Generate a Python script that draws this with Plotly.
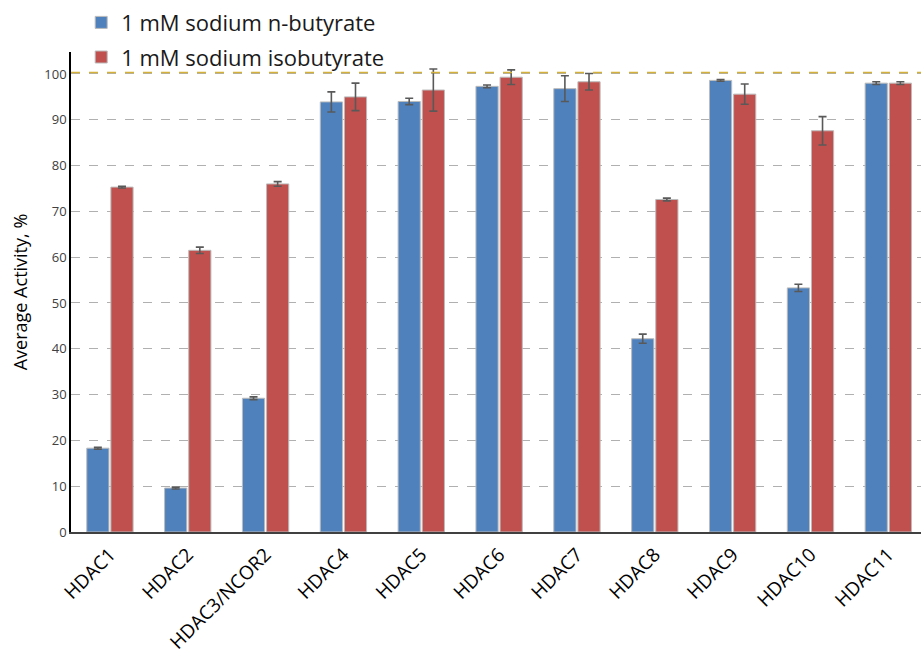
import plotly.graph_objects as go

categories = ["HDAC1", "HDAC2", "HDAC3/NCOR2", "HDAC4", "HDAC5", "HDAC6",
              "HDAC7", "HDAC8", "HDAC9", "HDAC10", "HDAC11"]
n_butyrate = [18.3, 9.6, 29.2, 93.9, 94.0, 97.3, 96.8, 42.2, 98.6, 53.3, 98.0]
n_butyrate_err = [0.2, 0.2, 0.3, 2.2, 0.7, 0.3, 2.8, 1.0, 0.2, 0.8, 0.3]
isobutyrate = [75.3, 61.5, 76.0, 95.0, 96.5, 99.3, 98.3, 72.6, 95.6, 87.6, 98.0]
isobutyrate_err = [0.2, 0.7, 0.5, 3.0, 4.6, 1.6, 1.8, 0.3, 2.2, 3.1, 0.3]
yticks = [0, 10, 20, 30, 40, 50, 60, 70, 80, 90, 100]
ref_level = 100.3

err_style = dict(type="data", color="#595959", thickness=1.6, width=4)

fig = go.Figure()
fig.add_trace(go.Bar(
    x=categories, y=n_butyrate, name="1 mM sodium n-butyrate", legendgroup="a",
    marker=dict(color="#4F81BD", line=dict(color="#BBBBBB", width=1)),
    error_y=dict(array=n_butyrate_err, **err_style)))
fig.add_trace(go.Bar(
    x=categories, y=isobutyrate, name="1 mM sodium isobutyrate", legendgroup="b",
    marker=dict(color="#C0504D", line=dict(color="#BBBBBB", width=1)),
    error_y=dict(array=isobutyrate_err, **err_style)))

fig.add_shape(type="line", xref="paper", x0=0, x1=1, yref="y", y0=ref_level, y1=ref_level,
              line=dict(color="#D4B13A", width=1.5, dash="dash"), layer="above")

fig.update_layout(
    width=921, height=654,
    margin=dict(l=71, r=0, t=52, b=122, autoexpand=False),
    paper_bgcolor="white", plot_bgcolor="white",
    barmode="group", bargap=0.38, bargroupgap=0.08,
    font=dict(family="Open Sans, DejaVu Sans, sans-serif", color="#000000"),
    showlegend=True,
    legend=dict(x=0.012, y=1.105, xanchor="left", yanchor="top",
                font=dict(size=22, color="#1a1a1a"), bgcolor="rgba(0,0,0,0)",
                itemwidth=30, tracegroupgap=3),
    xaxis=dict(range=[-0.5, 10.42], tickangle=-45, showgrid=False, automargin=False,
               showline=True, linecolor="#404040", linewidth=2, ticklabelstandoff=2,
               ticks="", tickfont=dict(size=19, color="#000000")),
    yaxis=dict(range=[0, 104.8], tickvals=yticks, showgrid=True, automargin=False,
               gridcolor="#B0B0B0", griddash="dash", gridwidth=1,
               showline=True, linecolor="#000000", linewidth=1.5,
               zeroline=False, ticks="", tickfont=dict(size=13, color="#404040"),
               title=dict(text="Average Activity, %", font=dict(size=18, color="#000000"),
                          standoff=12)),
)

fig.write_html("out.html")
